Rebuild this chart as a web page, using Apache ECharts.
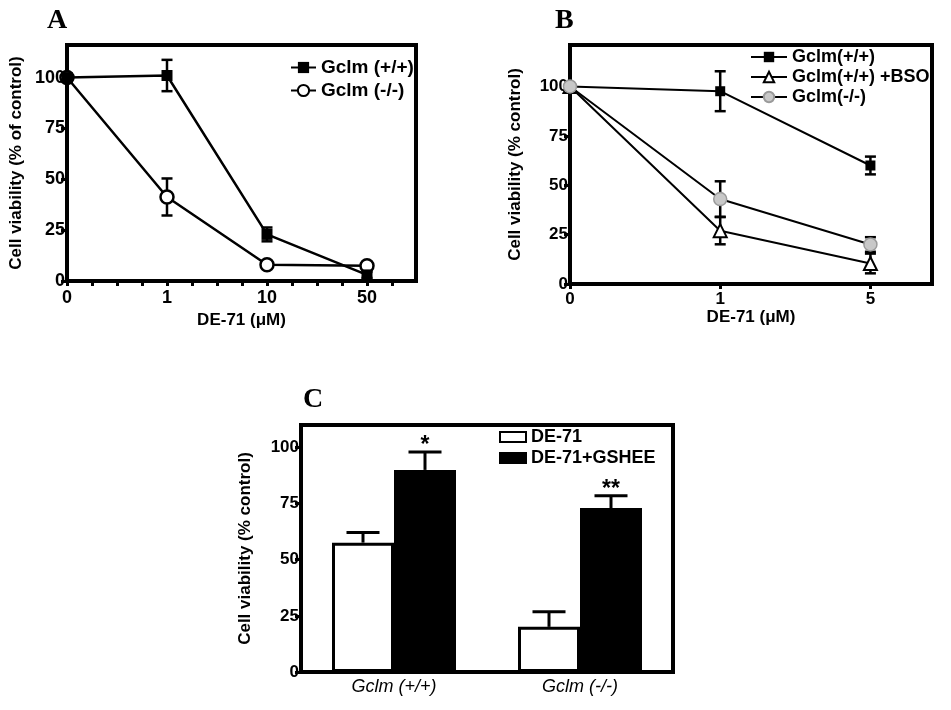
<!DOCTYPE html>
<html>
<head>
<meta charset="utf-8">
<script src="https://cdn.jsdelivr.net/npm/echarts@6/dist/echarts.min.js"></script>
<style>
html,body{margin:0;padding:0;background:#fff;}
#main{width:951px;height:710px;}
</style>
</head>
<body>
<div id="main"></div>
<script>
// ---------- data ----------
const doseLabelsA = ['0', '1', '10', '50'];
const gclmWT_A = [100, 101, 22.9, 3];
const gclmWT_A_err = [0, 7.7, 3.4, 1.5];
const gclmKO_A = [100, 41.3, 8, 7.5];
const gclmKO_A_err = [0, 9.1, 0, 0];

const doseLabelsB = ['0', '1', '5'];
const gclmWT_B = [100, 97.6, 60];
const gclmWT_B_err = [0, 10.1, 4.5];
const gclmBSO_B = [100, 27, 10.4];
const gclmBSO_B_err = [0, 6.9, 5];
const gclmKO_B = [100, 43, 20];
const gclmKO_B_err = [0, 9, 3.7];

const genotypesC = ['Gclm (+/+)', 'Gclm (-/-)'];
const de71C = [57.6, 20.1];
const de71C_err = [4.5, 6.7];
const gsheeC = [90, 73];
const gsheeC_err = [8, 5.5];
const gsheeC_sig = ['*', '**'];

const yTicks = [0, 25, 50, 75, 100];
const xMinorTicksA = [0, 0.25, 0.5, 0.75, 1, 1.25, 1.5, 1.75, 2, 2.25, 2.5, 2.75, 3, 3.25];

// ---------- helpers ----------
const FONT = '"Liberation Sans", Arial, Helvetica, sans-serif';
const SERIF = '"Liberation Serif", "Times New Roman", serif';
const pts = arr => arr.map((v, i) => [i, v]);
const errPts = (vals, errs) => vals.map((v, i) => [i, v, errs[i]]);

function errRender(capW, lw) {
  return function (params, api) {
    const x = api.value(0), y = api.value(1), e = api.value(2);
    if (!e) return { type: 'group', children: [] };
    const t = api.coord([x, y + e]), b = api.coord([x, y - e]);
    const h = capW / 2;
    const st = { stroke: '#000', lineWidth: lw };
    return {
      type: 'group', children: [
        { type: 'line', shape: { x1: t[0], y1: t[1], x2: b[0], y2: b[1] }, style: st },
        { type: 'line', shape: { x1: t[0] - h, y1: t[1], x2: t[0] + h, y2: t[1] }, style: st },
        { type: 'line', shape: { x1: b[0] - h, y1: b[1], x2: b[0] + h, y2: b[1] }, style: st }
      ]
    };
  };
}

function barErrRender(side, capW, sig) {
  return function (params, api) {
    const ci = api.value(0), y = api.value(1), e = api.value(2);
    const band = api.size([1, 0])[0];
    const off = side * band / 6;
    const base = api.coord([ci, y]);
    const top = api.coord([ci, y + e]);
    const x = base[0] + off;
    const h = capW / 2;
    const st = { stroke: '#000', lineWidth: 3 };
    const children = [
      { type: 'line', shape: { x1: x, y1: base[1], x2: x, y2: top[1] }, style: st },
      { type: 'line', shape: { x1: x - h, y1: top[1], x2: x + h, y2: top[1] }, style: st }
    ];
    if (sig && sig[params.dataIndex]) {
      children.push({
        type: 'text',
        style: {
          text: sig[params.dataIndex], x: x, y: top[1] - 6,
          align: 'center', verticalAlign: 'middle',
          font: 'bold 23px ' + FONT, fill: '#000'
        }
      });
    }
    return { type: 'group', children: children };
  };
}

const axisLineStyle = { show: true, lineStyle: { color: '#000', width: 4 } };
const boldText = (size) => ({ color: '#000', fontSize: size, fontWeight: 'bold', fontFamily: FONT });
const panelTitle = { fontFamily: SERIF, fontWeight: 'bold', fontSize: 28, color: '#000' };

const chart = echarts.init(document.getElementById('main'), null, { renderer: 'canvas' });

const option = {
  backgroundColor: '#fff',
  animation: false,
  title: [
    { text: 'A', left: 42, top: 2, textStyle: panelTitle },
    { text: 'B', left: 550, top: 2, textStyle: panelTitle },
    { text: 'C', left: 298, top: 381, textStyle: panelTitle }
  ],
  legend: [
    {
      left: 290, top: 58, orient: 'vertical', itemGap: 4, itemWidth: 25, itemHeight: 14, padding: 0,
      selectedMode: false, textStyle: boldText(19),
      data: ['Gclm (+/+)', 'Gclm (-/-)']
    },
    {
      left: 750, top: 48, orient: 'vertical', itemGap: 2, itemWidth: 36, itemHeight: 13, padding: 0,
      selectedMode: false, textStyle: boldText(18),
      data: ['Gclm(+/+)', 'Gclm(+/+) +BSO', 'Gclm(-/-)']
    },
    {
      left: 499, top: 428, orient: 'vertical', itemGap: 3, itemWidth: 26, itemHeight: 10, padding: 0,
      selectedMode: false, icon: 'rect', textStyle: boldText(18),
      data: ['DE-71', 'DE-71+GSHEE']
    }
  ],
  grid: [
    { left: 67, top: 45, width: 349, height: 236, show: true, borderColor: '#000', borderWidth: 4, backgroundColor: 'transparent' },
    { left: 570, top: 45, width: 362, height: 239, show: true, borderColor: '#000', borderWidth: 4, backgroundColor: 'transparent' },
    { left: 301, top: 425, width: 372, height: 247, show: true, borderColor: '#000', borderWidth: 4, backgroundColor: 'transparent' }
  ],
  xAxis: [
    {
      gridIndex: 0, type: 'value', min: 0, max: 3.49,
      name: 'DE-71 (μM)', nameLocation: 'middle', nameGap: 31, nameTextStyle: boldText(17),
      axisLine: axisLineStyle,
      axisTick: { show: true, length: 5, lineStyle: { color: '#000', width: 3 }, customValues: xMinorTicksA },
      axisLabel: { ...boldText(18), margin: 8, customValues: [0, 1, 2, 3], formatter: v => doseLabelsA[Math.round(v)] },
      splitLine: { show: false }
    },
    {
      gridIndex: 1, type: 'value', min: 0, max: 2.41,
      name: 'DE-71 (μM)', nameLocation: 'middle', nameGap: 25, nameTextStyle: boldText(17),
      axisLine: axisLineStyle,
      axisTick: { show: true, length: 5, lineStyle: { color: '#000', width: 3 }, customValues: [0, 1, 2] },
      axisLabel: { ...boldText(17), margin: 7, customValues: [0, 1, 2], formatter: v => doseLabelsB[Math.round(v)] },
      splitLine: { show: false }
    },
    {
      gridIndex: 2, type: 'category', data: genotypesC,
      axisLine: axisLineStyle,
      axisTick: { show: false },
      axisLabel: { color: '#000', fontSize: 18, fontStyle: 'italic', fontFamily: FONT, margin: 6 },
      splitLine: { show: false }
    }
  ],
  yAxis: [
    {
      gridIndex: 0, type: 'value', min: 0, max: 116,
      name: 'Cell viability (% of control)', nameLocation: 'middle', nameGap: 42, nameTextStyle: boldText(17),
      axisLine: axisLineStyle,
      axisTick: { show: true, length: 6, lineStyle: { color: '#000', width: 3 }, customValues: yTicks },
      axisLabel: { ...boldText(18), margin: 2, customValues: yTicks },
      splitLine: { show: false }
    },
    {
      gridIndex: 1, type: 'value', min: 0, max: 121,
      name: 'Cell viability (% control)', nameLocation: 'middle', nameGap: 46, nameTextStyle: boldText(17),
      axisLine: axisLineStyle,
      axisTick: { show: true, length: 6, lineStyle: { color: '#000', width: 3 }, customValues: yTicks },
      axisLabel: { ...boldText(17), margin: 2, customValues: yTicks },
      splitLine: { show: false }
    },
    {
      gridIndex: 2, type: 'value', min: 0, max: 110,
      name: 'Cell viability (% control)', nameLocation: 'middle', nameGap: 47, nameTextStyle: boldText(17),
      axisLine: axisLineStyle,
      axisTick: { show: true, length: 6, lineStyle: { color: '#000', width: 3 }, customValues: yTicks },
      axisLabel: { ...boldText(17), margin: 2, customValues: yTicks },
      splitLine: { show: false }
    }
  ],
  series: [
    // ---- Panel A ----
    { type: 'custom', name: 'errA1', xAxisIndex: 0, yAxisIndex: 0, z: 1, renderItem: errRender(11, 2.5), data: errPts(gclmWT_A, gclmWT_A_err) },
    { type: 'custom', name: 'errA2', xAxisIndex: 0, yAxisIndex: 0, z: 1, renderItem: errRender(11, 2.5), data: errPts(gclmKO_A, gclmKO_A_err) },
    {
      type: 'line', name: 'Gclm (-/-)', xAxisIndex: 0, yAxisIndex: 0, z: 3,
      data: pts(gclmKO_A), symbol: 'circle', symbolSize: 13,
      lineStyle: { color: '#000', width: 2.5 },
      itemStyle: { color: '#fff', borderColor: '#000', borderWidth: 2.5 }
    },
    {
      type: 'line', name: 'Gclm (+/+)', xAxisIndex: 0, yAxisIndex: 0, z: 4,
      data: pts(gclmWT_A), symbol: 'rect', symbolSize: 11,
      lineStyle: { color: '#000', width: 2.5 },
      itemStyle: { color: '#000' }
    },
    // ---- Panel B ----
    { type: 'custom', name: 'errB1', xAxisIndex: 1, yAxisIndex: 1, z: 1, renderItem: errRender(11, 2.5), data: errPts(gclmWT_B, gclmWT_B_err) },
    { type: 'custom', name: 'errB2', xAxisIndex: 1, yAxisIndex: 1, z: 1, renderItem: errRender(11, 2.5), data: errPts(gclmBSO_B, gclmBSO_B_err) },
    { type: 'custom', name: 'errB3', xAxisIndex: 1, yAxisIndex: 1, z: 1, renderItem: errRender(11, 2.5), data: errPts(gclmKO_B, gclmKO_B_err) },
    {
      type: 'line', name: 'Gclm(+/+)', xAxisIndex: 1, yAxisIndex: 1, z: 3,
      data: pts(gclmWT_B), symbol: 'rect', symbolSize: 10,
      lineStyle: { color: '#000', width: 2 },
      itemStyle: { color: '#000' }
    },
    {
      type: 'line', name: 'Gclm(+/+) +BSO', xAxisIndex: 1, yAxisIndex: 1, z: 3,
      data: pts(gclmBSO_B), symbol: 'triangle', symbolSize: 13,
      lineStyle: { color: '#000', width: 2 },
      itemStyle: { color: '#fff', borderColor: '#000', borderWidth: 2 }
    },
    {
      type: 'line', name: 'Gclm(-/-)', xAxisIndex: 1, yAxisIndex: 1, z: 4,
      data: pts(gclmKO_B), symbol: 'circle', symbolSize: 13,
      lineStyle: { color: '#000', width: 2 },
      itemStyle: { color: '#c8c8c8', borderColor: '#9a9a9a', borderWidth: 1.5 }
    },
    // ---- Panel C ----
    {
      type: 'bar', name: 'DE-71', xAxisIndex: 2, yAxisIndex: 2, z: 2,
      data: de71C, barWidth: 62, barGap: '0%',
      itemStyle: { color: '#fff', borderColor: '#000', borderWidth: 3 }
    },
    {
      type: 'bar', name: 'DE-71+GSHEE', xAxisIndex: 2, yAxisIndex: 2, z: 2,
      data: gsheeC, barWidth: 62, barGap: '0%',
      itemStyle: { color: '#000', borderColor: '#000', borderWidth: 3 }
    },
    { type: 'custom', name: 'errC1', xAxisIndex: 2, yAxisIndex: 2, z: 3, renderItem: barErrRender(-1, 33, null), data: errPts(de71C, de71C_err) },
    { type: 'custom', name: 'errC2', xAxisIndex: 2, yAxisIndex: 2, z: 3, renderItem: barErrRender(1, 33, gsheeC_sig), data: errPts(gsheeC, gsheeC_err) }
  ]
};

chart.setOption(option);
</script>
</body>
</html>
